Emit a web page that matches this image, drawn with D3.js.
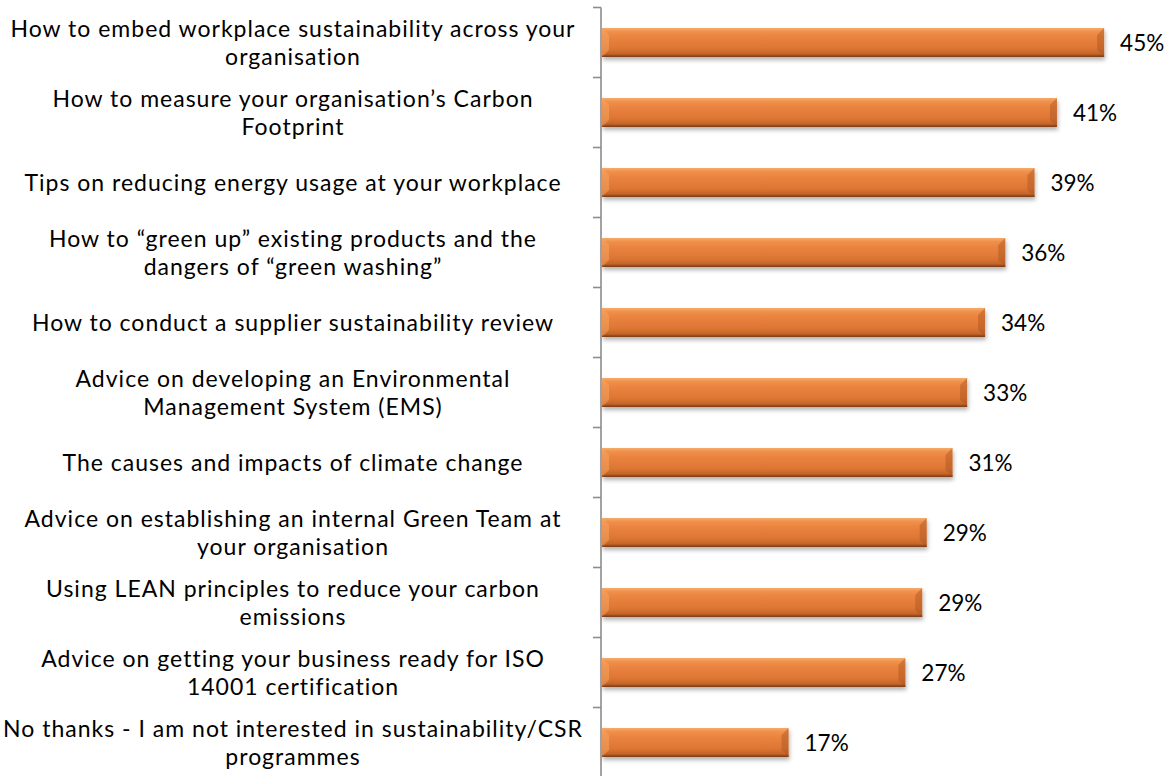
<!DOCTYPE html>
<html>
<head>
<meta charset="utf-8">
<script src="https://cdn.jsdelivr.net/npm/d3@7"></script>
<style>
  html, body { margin: 0; padding: 0; background: #ffffff; }
  svg { display: block; }
  text { font-family: Lato, "Open Sans", sans-serif; fill: #000; }
</style>
</head>
<body>
<svg id="chart" width="1175" height="776"></svg>
<script>
const categories = [
  "How to embed workplace sustainability across your\norganisation",
  "How to measure your organisation\u2019s Carbon\nFootprint",
  "Tips on reducing energy usage at your workplace",
  "How to \u201cgreen up\u201d existing products and the\ndangers of \u201cgreen washing\u201d",
  "How to conduct a supplier sustainability review",
  "Advice on developing an Environmental\nManagement System (EMS)",
  "The causes and impacts of climate change",
  "Advice on establishing an internal Green Team at\nyour organisation",
  "Using LEAN principles to reduce your carbon\nemissions",
  "Advice on getting your business ready for ISO\n14001 certification",
  "No thanks - I am not interested in sustainability/CSR\nprogrammes"
];
const values = [0.448, 0.406, 0.386, 0.360, 0.342, 0.326, 0.313, 0.290, 0.286, 0.271, 0.167];
const axisDomain = [0, 0.5];

const svg = d3.select("#chart");
const x0 = 601, yTop = 7.5, yBot = 777.5;
const x = d3.scaleLinear().domain(axisDomain).range([x0, x0 + 561.5]);
const y = d3.scaleBand().domain(categories).range([yTop, yBot]).padding(0);
const barH = 29;
const fmt = d3.format(".0%");

const defs = svg.append("defs");
const g = defs.append("linearGradient").attr("id", "barGrad").attr("x1", 0).attr("y1", 0).attr("x2", 0).attr("y2", 1);
[[0, "#f6ac6a"], [0.12, "#f0914c"], [0.3, "#eb843f"], [0.7, "#dd7634"], [0.88, "#c6662a"], [1, "#8a461b"]]
  .forEach(([o, c]) => g.append("stop").attr("offset", o).attr("stop-color", c));
const f = defs.append("filter").attr("id", "shadow").attr("x", "-5%").attr("y", "-30%").attr("width", "110%").attr("height", "180%");
f.append("feDropShadow").attr("dx", 1).attr("dy", 3).attr("stdDeviation", 2).attr("flood-color", "#000").attr("flood-opacity", 0.3);

// bars
const bars = svg.append("g").selectAll("g").data(categories).join("g")
  .attr("transform", d => `translate(0,${y(d) + (y.bandwidth() - barH) / 2})`);
bars.append("rect")
  .attr("x", x(0) + 1)
  .attr("y", 0)
  .attr("width", (d, i) => x(values[i]) - x(0) - 1)
  .attr("height", barH)
  .attr("fill", "url(#barGrad)")
  .attr("filter", "url(#shadow)");
const bv = 7;
bars.append("path")
  .attr("d", (d, i) => {
    const xe = x(values[i]);
    return `M${xe},0 L${xe},${barH} L${xe - bv},${barH - bv} L${xe - bv},${bv} Z`;
  })
  .attr("fill", "#a85522").attr("opacity", 0.45);
bars.append("path")
  .attr("d", () => {
    const xs = x(0) + 1;
    return `M${xs},0 L${xs + bv},${bv} L${xs + bv},${barH - bv} L${xs},${barH} Z`;
  })
  .attr("fill", "#f6a868").attr("opacity", 0.5);
bars.append("rect")
  .attr("x", x(0) + 1).attr("y", barH - 1.5)
  .attr("width", (d, i) => x(values[i]) - x(0) - 1).attr("height", 1.5)
  .attr("fill", "#7d4019").attr("opacity", 0.7);

// value labels
svg.append("g").selectAll("text").data(categories).join("text")
  .attr("x", (d, i) => x(values[i]) + 16)
  .attr("y", d => y(d) + y.bandwidth() / 2 + 8)
  .attr("font-size", 22.5)
  .text((d, i) => fmt(values[i]));

// axis
const axisG = svg.append("g").attr("stroke", "#8c8c8c").attr("stroke-width", 1.6);
axisG.append("line").attr("x1", x0).attr("x2", x0).attr("y1", yTop).attr("y2", yBot);
const bounds = categories.map(d => y(d)).concat([yBot]);
axisG.selectAll("line.tick").data(bounds).join("line").attr("class", "tick")
  .attr("x1", x0 - 8).attr("x2", x0).attr("y1", d => d).attr("y2", d => d);

// category labels
const labelX = 293, lineH = 28;
const lab = svg.append("g").selectAll("text").data(categories).join("text")
  .attr("text-anchor", "middle")
  .attr("font-size", 23)
  .attr("letter-spacing", 1)
  .attr("y", d => {
    const n = d.split("\n").length;
    return y(d) + y.bandwidth() / 2 + 8 - (n - 1) * lineH / 2;
  });
lab.selectAll("tspan").data(d => d.split("\n")).join("tspan")
  .attr("x", labelX)
  .attr("dy", (t, i) => i === 0 ? 0 : lineH)
  .text(t => t);
</script>
</body>
</html>
